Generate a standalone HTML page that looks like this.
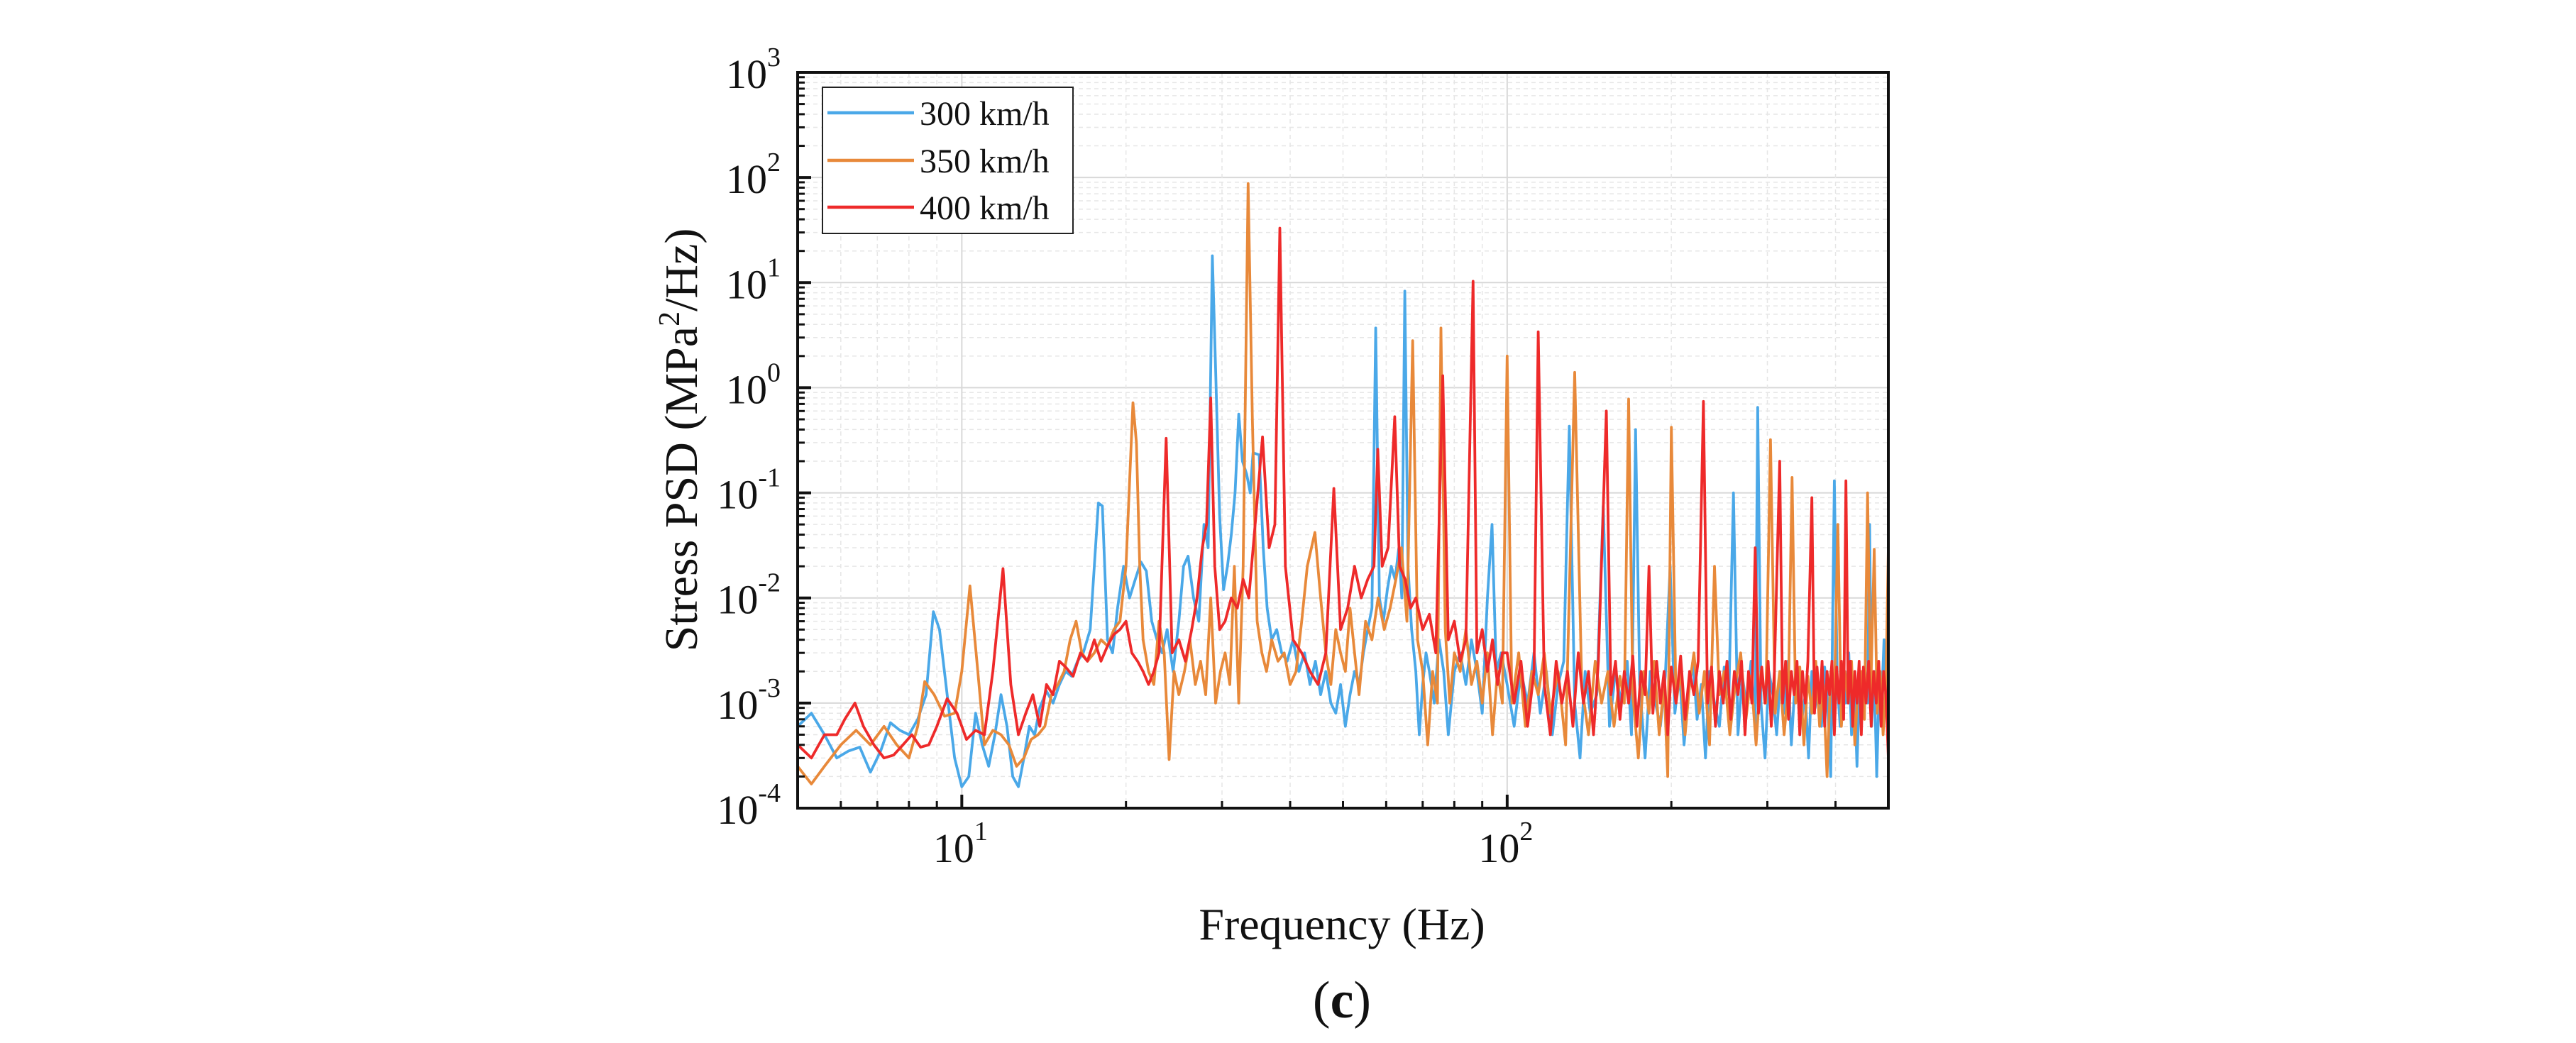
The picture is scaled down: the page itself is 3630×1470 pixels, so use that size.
<!DOCTYPE html>
<html><head><meta charset="utf-8"><style>
html,body{margin:0;padding:0;background:#fff;}
svg{display:block;font-family:"Liberation Serif","Times New Roman",serif;}
</style></head><body>
<svg id="chart" width="3630" height="1470" viewBox="0 0 3630 1470" xmlns="http://www.w3.org/2000/svg">
<rect x="0" y="0" width="3630" height="1470" fill="#ffffff"/>
<defs><clipPath id="plotclip"><rect x="1124" y="102" width="1537" height="1037"/></clipPath></defs>
<g id="grid"></g>
<g id="series" clip-path="url(#plotclip)"></g>
<g id="axes"></g>
<g id="legend">
  <rect x="1159" y="123" width="353" height="206" fill="#fff" stroke="#222" stroke-width="2"/>
  <line x1="1166" y1="159" x2="1288" y2="159" stroke="#4aa8e8" stroke-width="4.5"/>
  <text x="1296" y="176" font-size="48" fill="#111">300 km/h</text>
  <line x1="1166" y1="226" x2="1288" y2="226" stroke="#e8893a" stroke-width="4.5"/>
  <text x="1296" y="243" font-size="48" fill="#111">350 km/h</text>
  <line x1="1166" y1="292" x2="1288" y2="292" stroke="#ee2a2a" stroke-width="4.5"/>
  <text x="1296" y="309" font-size="48" fill="#111">400 km/h</text>
</g>
<text x="982" y="620" font-size="66" text-anchor="middle" transform="rotate(-90 982 620)" fill="#111">Stress PSD (MPa<tspan font-size="42" dy="-25">2</tspan><tspan dy="25">/Hz)</tspan></text>
<text x="1891" y="1324" font-size="64" text-anchor="middle" fill="#111">Frequency (Hz)</text>
<text x="1891" y="1434" font-size="74" text-anchor="middle" fill="#111">(<tspan font-weight="bold">c</tspan>)</text>
</svg>
<script>
const f300 = [5,5.3,5.6,5.9,6.2,6.5,6.8,7.1,7.4,7.7,
 8.0,8.3,8.6,8.87,9.1,9.4,9.7,10.0,10.3,10.6,
 10.9,11.2,11.5,11.8,12.1,12.4,12.7,13.0,13.3,13.6,
 13.9,14.3,14.7,15.1,15.5,15.9,16.3,16.7,17.2,17.8,
 18.1,18.5,18.9,19.3,19.8,20.3,20.8,21.3,21.8,22.3,
 22.8,23.3,23.8,24.4,25.0,25.5,26.0,26.6,27.2,27.8,
 28.3,28.8,29.2,29.7,30.2,30.7,31.2,31.7,32.2,32.7,
 33.3,33.8,34.2,35.1,35.7,36.3,37.0,37.8,38.6,39.5,
 40.5,41.5,42.5,43.5,44.5,45.5,46.5,47.5,48.5,49.5,
 50.5,51.5,52.5,53.5,54.5,55.5,56.5,57.4,58.3,59.3,
 60.3,61.3,62.3,63.3,64.1,64.9,65.8,66.8,68,69,
 70,71,72,73.5,75,76.5,78,80,82,84,
 86,88,90,92,93.8,95.5,97.5,
 100,103,106,109,112,115,118,121,124,127,
 130,133,136,139,142,146,150,154,158,162,
 166,169,172,175,179,183,187,191,195,199,
 203,207,211,215,219,223,227,231,235,240,
 245,250,255,260,265,270,275,280,285,288,
 292,297,302,307,312,317,322,327,332,337,
 342,347,352,357,362,367,372,377,382,387,
 392,398,403,408,413,418,423,428,433,438,
 443,448,453,458,462,466,471,476,481,486,
 491,496,500];
const psd300 = [6e-4,8e-4,5e-4,3e-4,3.5e-4,3.8e-4,2.2e-4,3.5e-4,6.5e-4,5.5e-4,
 5e-4,7e-4,1.2e-3,7.4e-3,5e-3,1.2e-3,3e-4,1.6e-4,2e-4,8e-4,
 4e-4,2.5e-4,5e-4,1.2e-3,6e-4,2e-4,1.6e-4,3e-4,6e-4,5e-4,
 9e-4,1.3e-3,1e-3,1.5e-3,2e-3,1.8e-3,2.5e-3,3e-3,5e-3,0.08,
 0.075,4e-3,3e-3,8e-3,0.02,0.01,0.015,0.022,0.018,6e-3,
 4e-3,3e-3,5e-3,2e-3,6e-3,0.02,0.025,0.01,6e-3,0.05,
 0.03,18,1.5,0.06,0.012,0.02,0.04,0.1,0.56,0.2,
 0.15,0.1,0.24,0.23,0.03,8e-3,4e-3,5e-3,3e-3,2.5e-3,
 4e-3,2e-3,3e-3,1.5e-3,2.5e-3,1.2e-3,2e-3,1e-3,8e-4,1.5e-3,
 6e-4,1.2e-3,2e-3,1.5e-3,3e-3,5e-3,8e-3,3.7,0.01,6e-3,
 0.012,0.02,0.015,0.03,0.01,8.3,0.02,5e-3,2e-3,5e-4,
 1.5e-3,3e-3,2e-3,1e-3,4e-3,2e-3,5e-4,2e-3,3e-3,1.5e-3,
 4e-3,2e-3,8e-4,0.01,0.05,2e-3,3e-3,
 1.5e-3,6e-4,2e-3,1e-3,3e-3,8e-4,2e-3,5e-4,1.5e-3,2.5e-3,
 0.43,1e-3,3e-4,2e-3,8e-4,1.2e-3,0.075,6e-4,2e-3,1e-3,
 2.5e-3,5e-4,0.4,1.5e-3,3e-4,2e-3,1e-3,6e-4,1.8e-3,0.02,
 8e-4,2e-3,4e-4,1.2e-3,2.5e-3,7e-4,1.5e-3,3e-4,2e-3,1e-3,
 6e-4,2.2e-3,1.2e-3,0.1,5e-4,1.8e-3,9e-4,2.5e-3,6e-4,0.65,
 1e-3,3e-4,2e-3,1.2e-3,5e-4,1.8e-3,8e-4,2.5e-3,4e-4,1.5e-3,
 2e-3,7e-4,1.2e-3,3e-4,2e-3,9e-4,1.5e-3,6e-4,2.2e-3,1e-3,
 2e-4,0.13,1.5e-3,6e-4,2e-3,1e-3,3e-3,5e-4,1.5e-3,2.5e-4,
 1.8e-3,8e-4,2e-3,1e-3,0.05,6e-4,2e-3,2e-4,1.5e-3,1e-3,
 4e-3,8e-4,2e-3];

const f350 = [5,5.3,5.6,6.0,6.4,6.8,7.2,7.6,8.0,8.3,
 8.55,8.9,9.3,9.7,10.0,10.35,10.7,11.0,11.4,11.8,
 12.2,12.6,13.0,13.4,13.8,14.2,14.6,15.0,15.4,15.8,
 16.2,16.6,17.0,17.5,18.0,18.5,19.0,19.5,20.0,20.6,
 20.9,21.2,21.5,22.0,22.5,23.0,23.5,24.0,24.5,25.0,
 25.6,26.2,26.8,27.4,28.0,28.6,29.2,29.8,30.4,31.0,
 31.6,32.2,32.8,33.5,34.1,34.8,35.5,36.2,37,38,
 39,40,41,42,43,44.4,45.5,46.5,47.5,48.5,
 49.5,50.5,51.5,52.5,53.5,55,56.5,58,59.5,61,
 62.5,64,65.5,67.1,68.5,70,71.5,73,74.5,75.6,
 77,78.5,80,82,84,86,88,90,92,94,
 96,98,
 100,102,105,108,111,114,117,120,124,128,
 133,137,141,145,149,153,157,161,164,167,
 170,174,178,182,186,190,194,197,200,204,
 208,212,216,220,225,230,235,240,245,250,
 256,262,268,274,280,286,292,298,304,310,
 316,322,328,333,338,344,350,356,362,368,
 374,380,386,392,398,404,410,416,422,428,
 434,440,446,452,458,464,471,477,483,489,
 495,500];
const psd350 = [2.5e-4,1.7e-4,2.5e-4,4e-4,5.5e-4,4e-4,6e-4,4e-4,3e-4,6e-4,
 1.6e-3,1.2e-3,7.5e-4,8e-4,2e-3,0.013,2e-3,4e-4,5.5e-4,5e-4,
 4e-4,2.5e-4,3e-4,4.5e-4,5e-4,6e-4,1.2e-3,1.5e-3,2e-3,4e-3,
 6e-3,3e-3,2.5e-3,3e-3,4e-3,3.5e-3,5e-3,6e-3,0.02,0.72,
 0.3,0.02,4e-3,2e-3,1.5e-3,6e-3,3e-3,2.9e-4,2e-3,1.2e-3,
 2e-3,4e-3,1.5e-3,2.5e-3,1.2e-3,0.01,1e-3,2e-3,3e-3,1.5e-3,
 0.02,1e-3,0.02,87.7,0.5,6e-3,3e-3,2e-3,4e-3,2.5e-3,
 3e-3,1.5e-3,2e-3,6e-3,0.02,0.042,0.01,3e-3,1.5e-3,5e-3,
 3e-3,2e-3,8e-3,3e-3,1.2e-3,6e-3,4e-3,0.01,5e-3,8e-3,
 0.015,0.03,6e-3,2.8,4e-3,2e-3,4e-4,2e-3,1e-3,3.7,
 5e-3,1e-3,3e-3,2e-3,5e-3,1.5e-3,2.5e-3,1e-3,3e-3,5e-4,
 2e-3,1e-3,
 2.0,1e-3,3e-3,6e-4,2e-3,1.2e-3,3e-3,8e-4,2e-3,4e-4,
 1.4,1.5e-3,5e-4,2.5e-3,1e-3,2e-3,6e-4,1.8e-3,1e-3,0.78,
 1.2e-3,3e-4,2e-3,8e-4,2.5e-3,5e-4,1.5e-3,2e-4,0.42,1e-3,
 2e-3,5e-4,1.5e-3,3e-3,8e-4,2e-3,4e-4,0.02,1.2e-3,2e-3,
 5e-4,1.5e-3,3e-3,7e-4,1.8e-3,4e-4,2e-3,1e-3,0.32,8e-4,
 2e-3,5e-4,1.5e-3,0.14,1e-3,2.2e-3,4e-4,1.8e-3,8e-4,2.5e-3,
 6e-4,1.5e-3,2e-4,2e-3,1e-3,0.05,6e-4,2e-3,1e-3,2.5e-3,
 4e-4,1.5e-3,2e-3,7e-4,0.1,1.2e-3,0.029,8e-4,2e-3,5e-4,
 1.5e-3,0.03];

const f400 = [5,5.3,5.6,5.9,6.1,6.37,6.6,6.9,7.2,7.5,
 7.8,8.1,8.4,8.7,9.0,9.4,9.8,10.2,10.6,11.0,
 11.4,11.9,12.3,12.7,13.1,13.5,13.9,14.3,14.7,15.1,
 15.5,16.0,16.5,17.0,17.5,18.0,18.5,19.0,19.5,20.0,
 20.5,21.0,21.5,22.0,22.5,23.0,23.7,24.3,25.0,25.7,
 26.4,27.0,27.6,28.1,28.6,29.1,29.7,30.4,31.2,32.0,
 32.8,33.6,34.5,35.6,36.6,37.5,38.3,39.2,40.5,42,
 43.5,45,46.5,48.1,49.5,51,52.5,54,55.5,57.0,
 57.9,59,60.5,62.2,63.5,65,66.5,68,70,72,
 74,76.2,78,80,82,84,86.6,88,90,92,
 94,96,98,
 100,103,106,109,112,114,117,120,123,126,
 129,132,135,138,141,144,147,152,155,158,
 161,164,167,170,173,176,179,182,185,188,
 191,194,197,200,204,208,212,216,220,224,
 229,233,237,241,245,249,253,257,261,265,
 269,273,277,281,285,289,293,297,301,305,
 309,316,320,324,328,332,336,340,344,348,
 352,356,362,366,370,374,378,382,386,390,
 394,398,402,406,410,414,418,422,426,430,
 434,438,442,446,450,455,460,465,470,475,
 480,485,490,495,500];
const psd400 = [4e-4,3e-4,5e-4,5e-4,7e-4,1e-3,6e-4,4e-4,3e-4,3.2e-4,
 4e-4,5e-4,3.8e-4,4e-4,6e-4,1.1e-3,8e-4,4.5e-4,5.5e-4,5e-4,
 2e-3,0.019,1.5e-3,5e-4,8e-4,1.2e-3,6e-4,1.5e-3,1.2e-3,2.5e-3,
 2.2e-3,1.8e-3,3e-3,2.5e-3,4e-3,2.5e-3,3.5e-3,4.5e-3,5e-3,6e-3,
 3e-3,2.5e-3,2e-3,1.5e-3,2e-3,3e-3,0.33,3e-3,4e-3,2.5e-3,
 5e-3,0.01,0.03,0.05,0.8,0.02,5e-3,6e-3,0.01,8e-3,
 0.015,0.01,0.05,0.34,0.03,0.05,33,0.02,4e-3,3e-3,
 2e-3,1.5e-3,3e-3,0.11,5e-3,8e-3,0.02,0.01,0.015,0.02,
 0.26,0.02,0.03,0.53,0.02,0.015,8e-3,0.01,5e-3,7e-3,
 3e-3,1.3,4e-3,6e-3,2.5e-3,4e-3,10.3,3e-3,5e-3,2e-3,
 4e-3,1.5e-3,3e-3,
 3e-3,1e-3,2.5e-3,6e-4,2e-3,3.4,1.5e-3,5e-4,2.5e-3,1e-3,
 2e-3,6e-4,3e-3,1e-3,2e-3,5e-4,2.5e-3,0.6,1.2e-3,2.5e-3,
 7e-4,2e-3,1e-3,2.8e-3,6e-4,2e-3,1.2e-3,0.02,8e-4,2.5e-3,
 1e-3,2e-3,5e-4,2.2e-3,1e-3,2.8e-3,7e-4,2e-3,1.2e-3,2.5e-3,
 0.74,1e-3,2.2e-3,6e-4,2e-3,1e-3,2.5e-3,7e-4,2e-3,1.2e-3,
 2.5e-3,5e-4,2e-3,1e-3,0.03,8e-4,2.2e-3,1e-3,2.5e-3,6e-4,
 2e-3,0.2,1e-3,2.5e-3,7e-4,2e-3,1.2e-3,2.5e-3,5e-4,2e-3,
 1e-3,2.5e-3,0.09,8e-4,2.2e-3,1e-3,2.5e-3,6e-4,2e-3,1.2e-3,
 2.5e-3,5e-4,2.2e-3,1e-3,2.5e-3,7e-4,0.13,1e-3,2.5e-3,6e-4,
 2e-3,1e-3,2.5e-3,5e-4,2.2e-3,1e-3,2.5e-3,6e-4,2e-3,1e-3,
 2.5e-3,6e-4,2e-3,1.2e-3,3e-4];

const yTickExps = [3,2,1,0,-1,-2,-3,-4];
const xTickExps = [1,2];
const xMinorTicks = [6,7,8,9,20,30,40,50,60,70,80,90,200,300,400];

const NS = "http://www.w3.org/2000/svg";
const X0 = 1124, X1 = 2661, Y0 = 102, Y1 = 1139;
const FMIN = 5, FMAX = 500, EMAX = 3, EMIN = -4;
function xS(f){ return X0 + (Math.log10(f) - Math.log10(FMIN)) / (Math.log10(FMAX) - Math.log10(FMIN)) * (X1 - X0); }
function yS(v){ return Y0 + (EMAX - Math.log10(v)) / (EMAX - EMIN) * (Y1 - Y0); }
function mk(tag, attrs, parent){
  const el = document.createElementNS(NS, tag);
  for (const k in attrs) el.setAttribute(k, attrs[k]);
  parent.appendChild(el);
  return el;
}
const grid = document.getElementById('grid');
const axes = document.getElementById('axes');
const series = document.getElementById('series');

for (let e = EMIN; e < EMAX; e++) {
  for (let m = 2; m <= 9; m++) {
    const y = yS(m * Math.pow(10, e));
    const g = mk('line', {x1:X0, x2:X1, y1:y, y2:y, stroke:'#e6e6e6', 'stroke-width':1.5, 'stroke-dasharray':'6,5'}, grid);
    
    
    const t = mk('line', {x1:X0, x2:X0+10, y1:y, y2:y, stroke:'#111', 'stroke-width':3}, axes);
    
    
  }
}
yTickExps.forEach(function(e){
  const y = yS(Math.pow(10, e));
  const g = mk('line', {x1:X0, x2:X1, y1:y, y2:y, stroke:'#d8d8d8', 'stroke-width':2}, grid);
  
  
  const t = mk('line', {x1:X0, x2:X0+19, y1:y, y2:y, stroke:'#111', 'stroke-width':4}, axes);
  
  
  const lab = mk('text', {x:1100, y:y+22, 'font-size':58, 'text-anchor':'end', fill:'#111'}, axes);
  
  
  lab.innerHTML = '10<tspan font-size="38" dy="-31">' + (e < 0 ? '-' + (-e) : e) + '</tspan>';
});
xMinorTicks.forEach(function(f){
  const x = xS(f);
  const g = mk('line', {x1:x, x2:x, y1:Y0, y2:Y1, stroke:'#e6e6e6', 'stroke-width':1.5, 'stroke-dasharray':'6,5'}, grid);
  
  
  const t = mk('line', {x1:x, x2:x, y1:Y1, y2:Y1-10, stroke:'#111', 'stroke-width':3}, axes);
  
  
});
xTickExps.forEach(function(e){
  const x = xS(Math.pow(10, e));
  const g = mk('line', {x1:x, x2:x, y1:Y0, y2:Y1, stroke:'#d8d8d8', 'stroke-width':2}, grid);
  
  
  const t = mk('line', {x1:x, x2:x, y1:Y1, y2:Y1-19, stroke:'#111', 'stroke-width':4}, axes);
  
  
  const lab = mk('text', {x:x-2, y:1215, 'font-size':58, 'text-anchor':'middle', fill:'#111'}, axes);
  
  
  lab.innerHTML = '10<tspan font-size="38" dy="-31">' + e + '</tspan>';
});
const frame = mk('rect', {x:X0, y:Y0, width:X1-X0, height:Y1-Y0, fill:'none', stroke:'#111', 'stroke-width':4}, axes);



function drawSeries(fs, vs, color, name){
  const n = Math.min(fs.length, vs.length);
  let d = '';
  for (let i = 0; i < n; i++) d += (i ? 'L' : 'M') + xS(fs[i]).toFixed(1) + ',' + yS(vs[i]).toFixed(1);
  const p = mk('path', {d:d, fill:'none', stroke:color, 'stroke-width':3.8, 'stroke-linejoin':'round'}, series);
  
  
}
drawSeries(f300, psd300, '#4aa8e8', 'series-300kmh');
drawSeries(f350, psd350, '#e8893a', 'series-350kmh');
drawSeries(f400, psd400, '#ee2a2a', 'series-400kmh');
</script>
</body></html>
